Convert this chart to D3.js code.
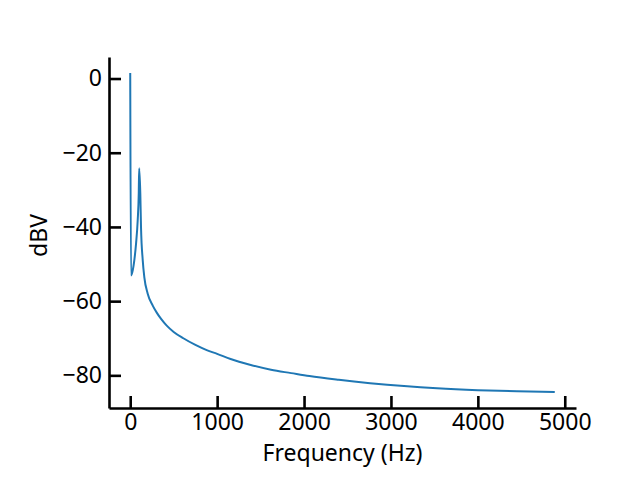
<!DOCTYPE html>
<html>
<head>
<meta charset="utf-8">
<script src="https://cdn.jsdelivr.net/npm/d3@7"></script>
<style>
html,body{margin:0;padding:0;background:#fff;}
text{font-family:"Noto Sans",Lato,sans-serif;fill:#000;}
</style>
</head>
<body>
<svg id="chart" width="640" height="480"></svg>
<script>
// Frequency (Hz) and magnitude (dBV)
const freqHz = [0, 9, 29, 47, 67, 86, 98, 103, 116, 124, 144, 162, 201, 259, 305, 355, 420, 500, 611, 750, 880, 1000, 1155, 1387, 1620, 1852, 2062, 2400, 2760, 3150, 3530, 4000, 4450, 4885];
const levelDbv = [1.5, -53.1, -51.7, -49, -44.5, -38.2, -31, -24.2, -31, -40, -49, -53.5, -58, -61.2, -63.1, -64.8, -66.6, -68.3, -70.0, -71.8, -73.2, -74.2, -75.6, -77.2, -78.5, -79.4, -80.2, -81.2, -82.1, -82.9, -83.5, -84.0, -84.3, -84.5];
const xTicks = [0, 1000, 2000, 3000, 4000, 5000];
const yTicks = [0, -20, -40, -60, -80];
const xLabel = "Frequency (Hz)";
const yLabel = "dBV";

const data = freqHz.map((f, i) => ({f: f, v: levelDbv[i]}));
const svg = d3.select("#chart");
const mLeft = 109, mRight = 576, mTop = 57, mBottom = 408;

function padded(ext) { const m = (ext[1] - ext[0]) * 0.05; return [ext[0] - m, ext[1] + m]; }
const x = d3.scaleLinear().domain(padded(d3.extent(freqHz))).range([mLeft, mRight]);
const y = d3.scaleLinear().domain(padded(d3.extent(levelDbv))).range([mBottom, mTop]);

const line = d3.line().curve(d3.curveMonotoneX).x(d => x(d.f)).y(d => y(d.v));
svg.append("path").datum(data)
  .attr("d", line)
  .attr("fill", "none")
  .attr("stroke", "#1f77b4")
  .attr("stroke-width", 2)
  .attr("stroke-linejoin", "round");

const fmt = d3.format("d");
const xAxis = svg.append("g").attr("transform", `translate(0,${mBottom})`)
  .call(d3.axisBottom(x).tickValues(xTicks).tickFormat(fmt).tickSizeInner(-12).tickSizeOuter(0).tickPadding(6));
const yAxis = svg.append("g").attr("transform", `translate(${mLeft},0)`)
  .call(d3.axisLeft(y).tickValues(yTicks).tickFormat(fmt).tickSizeInner(-12).tickSizeOuter(0).tickPadding(7));

[xAxis, yAxis].forEach(g => {
  g.selectAll("path.domain").attr("stroke", "#000").attr("stroke-width", 2.6);
  g.selectAll(".tick line").attr("stroke", "#000").attr("stroke-width", 2.6);
  g.selectAll(".tick text").style("font-size", "23px").style("font-family", "'Noto Sans',sans-serif").attr("fill", "#000");
});

svg.append("text").attr("x", (mLeft + mRight) / 2).attr("y", 461)
  .attr("text-anchor", "middle").style("font-size", "23px").text(xLabel);
svg.append("text").attr("transform", `translate(47,${(mTop + mBottom) / 2 + 3}) rotate(-90)`)
  .attr("text-anchor", "middle").style("font-size", "23px").text(yLabel);
</script>
</body>
</html>
